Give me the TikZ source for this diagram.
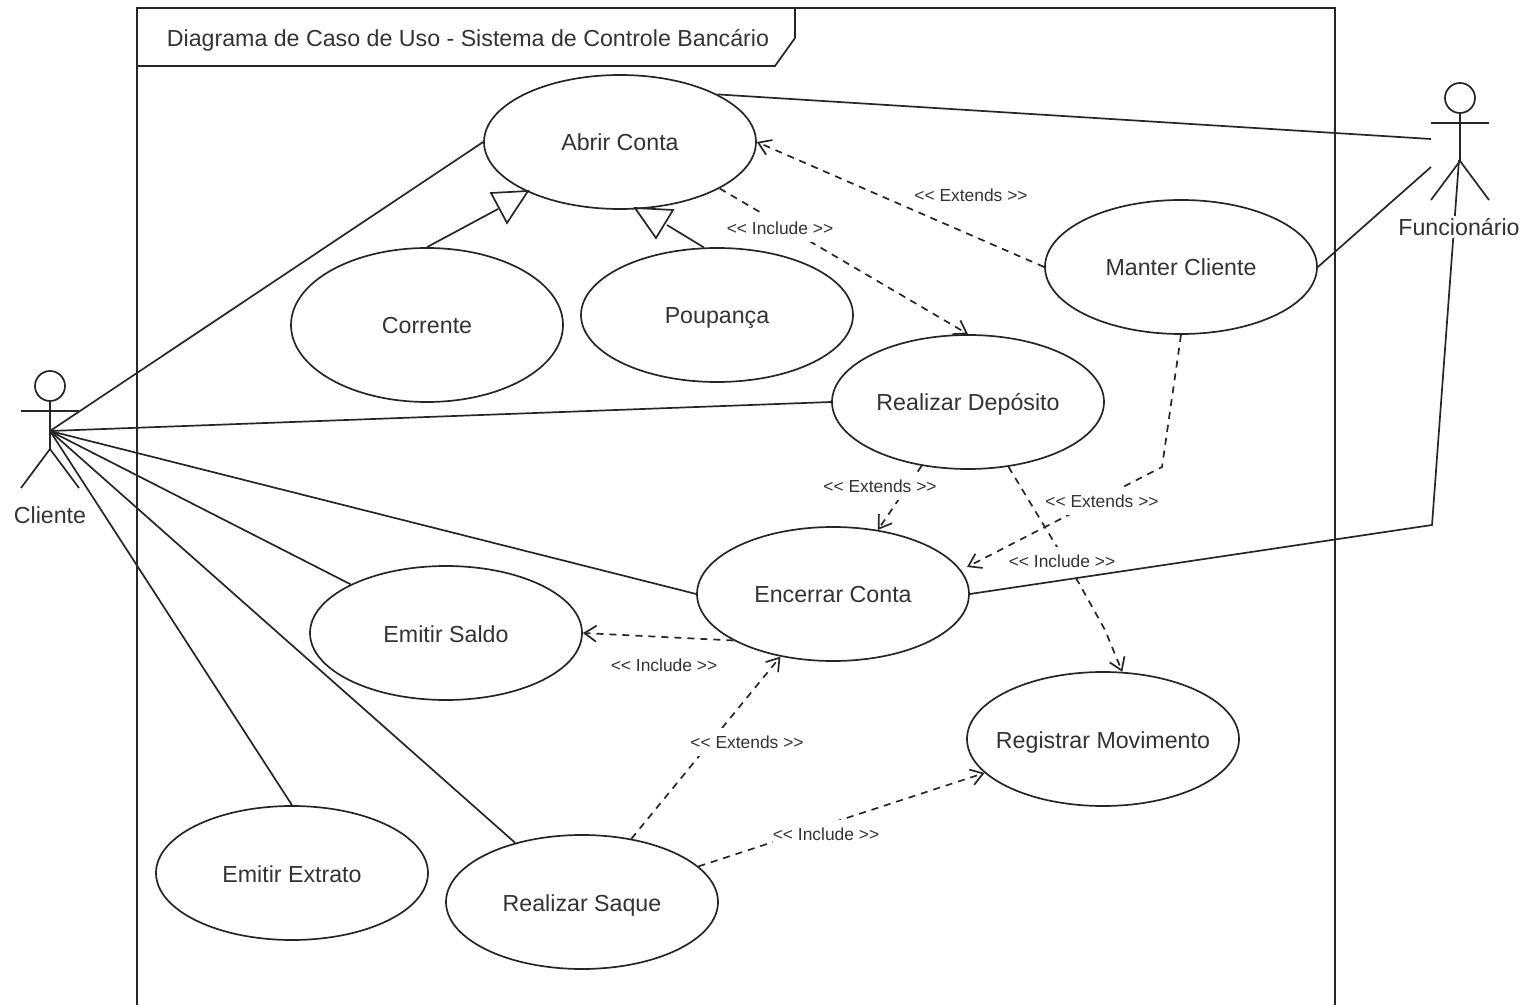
\documentclass[tikz,border=0pt]{standalone}
\usepackage{fontspec}
\setmainfont{Liberation Sans}
\usepackage{xcolor}
\usetikzlibrary{arrows.meta,shapes.geometric}

\definecolor{umlline}{HTML}{262626}
\definecolor{umltext}{HTML}{333333}

\tikzset{
	actorman/.pic={
		\node[draw,circle,minimum size=15pt,inner sep=0pt] (-head) at (0,0) {};
		\draw (-head.south) -- (0,63);
		\draw (-29,25) -- (29,25);
		\draw (-29,102) -- (0,63) -- (29,102);
	}
}

\begin{document}
\begin{tikzpicture}[x=0.5pt,y=-0.5pt,line width=0.85pt,draw=umlline,text=umltext,
		>={Straight Barb[length=6pt,width=8pt]}]
		\tikzstyle{usecase}=[draw,ellipse,fill=white,inner xsep=-30pt,inner ysep=0pt,text height=9pt,text depth=0pt,minimum width=136pt,minimum height=67pt,font=\fontsize{11.6}{14}\selectfont]
		\tikzstyle{stereo}=[fill=white,inner xsep=0pt,inner ysep=0pt,minimum height=14pt,font=\fontsize{8.7}{10}\selectfont]
		\tikzstyle{dep}=[->,dashed,dash pattern=on 3.5pt off 3pt]
		\tikzstyle{actorname}=[fill=white,inner sep=1pt,font=\fontsize{11.6}{14}\selectfont]
		
		\useasboundingbox (0,0) rectangle (1532,1005);
		
		% frame
		\draw (137,1005) -- (137,8) -- (1335,8) -- (1335,1005);
		\draw (137,66) -- (775,66) -- (795,38) -- (795,8);
		\node[inner sep=0pt,anchor=west,font=\fontsize{11.6}{14}\selectfont] (titulo) at (166,40) {Diagrama de Caso de Uso - Sistema de Controle Bancário};
		
		% use cases
		\node[usecase] (abrir)     at (620,142)  {Abrir Conta};
		\node[usecase,minimum height=77pt] (corrente)  at (427,325)  {Corrente};
		\node[usecase] (poupanca)  at (717,315)  {Poupança};
		\node[usecase] (manter)    at (1181,267) {Manter Cliente};
		\node[usecase] (deposito)  at (968,402)  {Realizar Depósito};
		\node[usecase] (encerrar)  at (833,594)  {Encerrar Conta};
		\node[usecase] (saldo)     at (446,633)  {Emitir Saldo};
		\node[usecase] (registrar) at (1103,739) {Registrar Movimento};
		\node[usecase] (extrato)   at (292,873)  {Emitir Extrato};
		\node[usecase] (saque)     at (582,902)  {Realizar Saque};
		
		% actors
		\pic (cliente) at (50,386) {actorman};
		\pic (funcionario) at (1460,98) {actorman};
		\coordinate (clientehub) at (50,431);
		\coordinate (funcA) at (1431,139);
		\coordinate (funcB) at (1431,167);
		\coordinate (funcC) at (1432,525);
		\coordinate (funcD) at (1459,160);
		
		% associations
		\path
		(clientehub) edge (abrir.west)
			edge (deposito.west)
			edge (encerrar.west)
			edge (saldo)
			edge (extrato.north)
			edge (saque)
		(abrir.26) edge (funcA)
		(manter.east) edge (funcB);
		
		% generalization
		\coordinate (correnteend) at (498,209);
		\coordinate (poupancaend) at (667,225);
		\draw (corrente.north) -- (correnteend);
		\draw (poupanca.101) -- (poupancaend);
		\draw (491,193) -- (528,191) -- (507,223) -- cycle;
		\draw (635,208) -- (673,210) -- (656,238) -- cycle;
		
		% include / extends
		\coordinate (encerrarin) at (967,567);
		\coordinate (manterbend) at (1162,467);
		\coordinate (depbendA) at (1080,585);
		\coordinate (depbendB) at (1105,630);
		\path
		(abrir.-25.6) edge[dep] (deposito.north)
		(manter.west) edge[dep] (abrir.east)
		(deposito.234) edge[dep] (encerrar.55.5)
		(encerrar.205.6) edge[dep] (saldo.east)
		(saque.52.4) edge[dep] (encerrar.230)
		(saque.17.4) edge[dep] (registrar.196.5);
		\draw[dep] (manter.south) -- (manterbend) -- (encerrarin);
		\draw[dep] (deposito.-58.4) -- (depbendA) -- (depbendB) -- (registrar.74);
		
		% labels
		\node[stereo] (lblA) at (780,228)  {<{}< Include >{}>};
		\node[stereo] (lblB) at (971,195)  {<{}< Extends >{}>};
		\node[stereo] (lblC) at (880,486)  {<{}< Extends >{}>};
		\node[stereo] (lblD) at (1102,501) {<{}< Extends >{}>};
		\node[stereo] (lblE) at (1062,561) {<{}< Include >{}>};
		\node[stereo] (lblF) at (664,665)  {<{}< Include >{}>};
		\node[stereo] (lblG) at (747,742)  {<{}< Extends >{}>};
		\node[stereo] (lblH) at (826,834)  {<{}< Include >{}>};
		
		\draw (encerrar.east) -- (funcC) -- (funcD);
		
		\node[actorname] (nomecliente) at (50,515) {Cliente};
		\node[actorname] (nomefuncionario) at (1459,227) {Funcionário};
		
\end{tikzpicture}
\end{document}
